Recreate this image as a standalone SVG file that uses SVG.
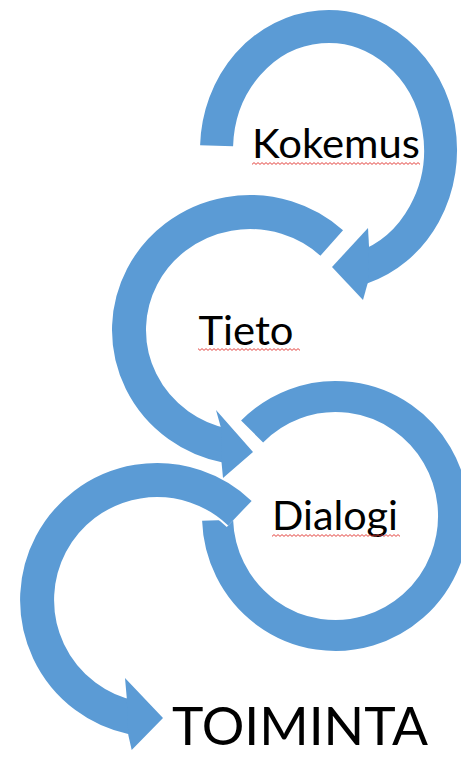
<svg xmlns="http://www.w3.org/2000/svg" width="461" height="757" viewBox="0 0 461 757">
<style>
.shaft{fill:none;stroke:#5B9BD5;stroke-linecap:butt}
.gap{fill:none;stroke:#ffffff;stroke-linecap:butt}
.head{fill:#5B9BD5;stroke:none}
.lbl{font-family:Lato,"Open Sans","Liberation Sans",sans-serif;fill:#000000}
.sq{fill:url(#squiggle)}
</style>
<defs>
<pattern id="squiggle" x="0" y="0" width="4" height="3" patternUnits="userSpaceOnUse">
<path d="M0 2.4 L2 0.6 L4 2.4" fill="none" stroke="#e0302a" stroke-width="0.9"/>
</pattern>
</defs>
<rect x="0" y="0" width="461" height="757" fill="#ffffff"/>
<g id="connectors">
<g id="arrow-kokemus">
<path class="shaft" stroke-width="33" d="M 216.6 145.7 A 112 123.5 0 1 1 361.2 268.1"/>
<polygon class="head" points="368,228 332,267 363,300 368,282 369,246"/>
</g>
<g id="arrow-tieto">
<path class="shaft" stroke-width="34" d="M 331.7 243 A 121 118 0 1 0 226 445.7"/>
<polygon class="head" points="216,410 253,452 223,478 221.5,462 221,428"/>
</g>
<g id="arrow-dialogi">
<path class="shaft" stroke-width="31" d="M 252.1 431.5 A 118 119.5 0 1 1 217.6 520.2"/>
</g>
<g id="arrow-toiminta">
<path class="gap" stroke-width="38" d="M 239.9 513.2 A 120 120 0 1 0 132.5 717.5"/>
<path class="shaft" stroke-width="34" d="M 239.9 513.2 A 120 120 0 1 0 132.5 717.5"/>
<polygon class="head" points="125,678 163,718 131.7,750 128.3,735 126.7,697"/>
</g>
</g>
<g id="node-kokemus">
<text class="lbl" x="252" y="158" font-size="40" textLength="168" lengthAdjust="spacingAndGlyphs">Kokemus</text>
<rect class="sq" x="252" y="162" width="168" height="3"/>
</g>
<g id="node-tieto">
<text class="lbl" x="198.5" y="345" font-size="40" textLength="95" lengthAdjust="spacingAndGlyphs">Tieto</text>
<rect class="sq" x="198" y="348" width="102" height="3"/>
</g>
<g id="node-dialogi">
<text class="lbl" x="272" y="530" font-size="40" textLength="126" lengthAdjust="spacingAndGlyphs">Dialogi</text>
<rect class="sq" x="272" y="534" width="128" height="3"/>
</g>
<g id="node-toiminta">
<text class="lbl" x="172" y="745" font-size="53" textLength="256" lengthAdjust="spacingAndGlyphs">TOIMINTA</text>
</g>
</svg>
